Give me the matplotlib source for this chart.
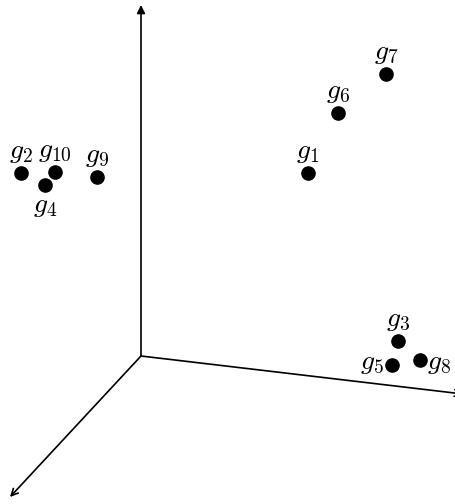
import matplotlib
matplotlib.use('Agg')
from matplotlib import pyplot as plt

plt.rcParams['mathtext.fontset'] = 'cm'

# point names and projected positions (origin of the 3 axes at 0,0)
names = ['g_1', 'g_2', 'g_3', 'g_4', 'g_5', 'g_6', 'g_7', 'g_8', 'g_9', 'g_{10}']
xs = [167, -120, 257, -96, 251, 197, 245, 279, -44, -86]
ys = [183, 183, 15, 171, -9, 243, 282, -4, 179, 184]

# label placement: above, below, left or right of the dot
where = ['above', 'above', 'above', 'below', 'left', 'above', 'above', 'right', 'above', 'above']

# ends of the three axes
axis_ends = [(0, 351), (322, -38), (-131, -141)]
axis_styles = ['-|>', '->', '->']

fig = plt.figure(figsize=(4.55, 5.04), dpi=100)
ax = fig.add_axes([0, 0, 1, 1])
ax.set_xlim(-141, 314)
ax.set_ylim(-148, 356)
ax.axis('off')

# axes arrows
for (ex, ey), st in zip(axis_ends, axis_styles):
  ax.annotate('', xy=(ex, ey), xytext=(0, 0), annotation_clip=False,
              arrowprops=dict(arrowstyle=st, color='black', lw=1.2,
                              shrinkA=0, shrinkB=0, mutation_scale=12))

# dots
ax.plot(xs, ys, 'o', color='black', markersize=9.5, zorder=3)

# labels
offs = {'above': (0, 22, 'center'), 'below': (0, -20, 'center'),
        'left': (-8, 3, 'right'), 'right': (7, -2, 'left')}
for n, x, y, w in zip(names, xs, ys, where):
  dx, dy, ha = offs[w]
  ax.text(x + dx, y + dy, '$' + n + '$', fontsize=20, ha=ha, va='center')

fig.savefig('out.png', dpi=100)
